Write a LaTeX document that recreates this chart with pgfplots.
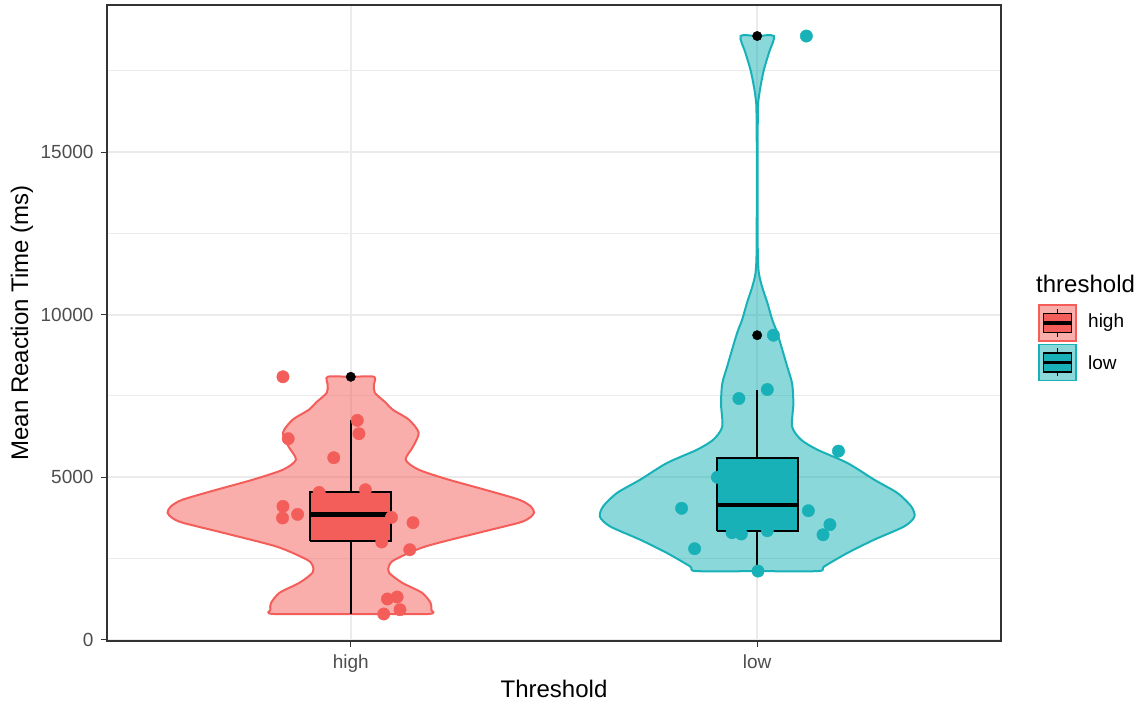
\documentclass[border=0pt]{standalone}
\usepackage{fontspec}
\setmainfont{Liberation Sans}
\usepackage{pgfplots}
\pgfplotsset{compat=1.18}
\usepackage{pgfplotstable}
\definecolor{redc}{HTML}{F35E5A}
\definecolor{tealc}{HTML}{17B1B7}
\definecolor{gridc}{HTML}{EBEBEB}
\definecolor{gray30}{HTML}{4D4D4D}
\definecolor{gray20}{HTML}{333333}

% violin outlines: value v, signed half-width w (category units)
\pgfplotstableread{
v w
791 0
791 0.190
923 0.198
1138 0.196
1446 0.175
1754 0.126
2062 0.094
2277 0.094
2462 0.108
2862 0.182
3292 0.315
3600 0.414
3750 0.440
3908 0.451
4100 0.443
4308 0.414
4615 0.330
4923 0.241
5231 0.167
5538 0.135
5938 0.153
6369 0.167
6769 0.143
7077 0.103
7292 0.086
7600 0.059
7846 0.057
8090 0.057
8090 0
8090 -0.057
7846 -0.057
7600 -0.059
7292 -0.086
7077 -0.103
6769 -0.143
6369 -0.167
5938 -0.153
5538 -0.135
5231 -0.167
4923 -0.241
4615 -0.330
4308 -0.414
4100 -0.443
3908 -0.451
3750 -0.440
3600 -0.414
3292 -0.315
2862 -0.182
2462 -0.108
2277 -0.094
2062 -0.094
1754 -0.126
1446 -0.175
1138 -0.196
923 -0.198
791 -0.190
791 0
}\violinhigh

\pgfplotstableread{
v w
2111 0
2111 0.150
2255 0.165
2668 0.222
3077 0.288
3486 0.362
3785 0.387
4102 0.379
4514 0.345
4923 0.288
5437 0.222
5846 0.148
6154 0.108
6554 0.086
7262 0.089
7877 0.086
8400 0.074
9415 0.050
9846 0.037
10369 0.025
10862 0.012
11292 0.004
11908 0.0015
13538 0.001
15077 0.001
16000 0.0015
16523 0.0025
17015 0.008
17538 0.0165
18062 0.029
18575 0.041
18575 0
18575 -0.041
18062 -0.029
17538 -0.0165
17015 -0.008
16523 -0.0025
16000 -0.0015
15077 -0.001
13538 -0.001
11908 -0.0015
11292 -0.004
10862 -0.012
10369 -0.025
9846 -0.037
9415 -0.050
8400 -0.074
7877 -0.086
7262 -0.089
6554 -0.086
6154 -0.108
5846 -0.148
5437 -0.222
4923 -0.288
4514 -0.345
4102 -0.379
3785 -0.387
3486 -0.362
3077 -0.288
2668 -0.222
2255 -0.165
2111 -0.150
2111 0
}\violinlow

\pgfplotstableread{
x y
0.833 8090
0.846 6185
1.016 6748
1.020 6338
0.958 5600
0.922 4532
1.036 4615
0.833 4102
0.832 3745
0.869 3855
1.100 3763
1.153 3600
1.076 3006
1.145 2769
1.090 1252
1.114 1314
1.121 923
1.081 791
}\pointshigh

\pgfplotstableread{
x y
2.121 18575
2.040 9369
2.025 7698
1.955 7422
2.200 5803
1.902 4997
1.814 4043
2.126 3969
2.179 3541
2.162 3228
1.938 3292
1.961 3252
2.025 3354
1.846 2800
2.002 2111
}\pointslow

\begin{document}
\begin{tikzpicture}
\useasboundingbox (-107pt,-62pt) rectangle (1036pt,641pt);
\begin{axis}[
  at={(0pt,0pt)}, anchor=south west,
  scale only axis, width=894pt, height=636pt,
  xmin=0.4, xmax=2.6, ymin=-40, ymax=19530,
  xtick={1,2}, xticklabels={high,low},
  ytick={0,5000,10000,15000},
  minor ytick={2500,7500,12500,17500},
  grid=both,
  major grid style={draw=gridc, line width=2pt},
  minor grid style={draw=gridc, line width=1pt},
  axis line style={draw=gray20, line width=1.2pt},
  tick style={draw=gray20, line width=1.2pt},
  tick align=outside, tick pos=left,
  major tick length=6pt, minor tick length=0pt,
  scaled y ticks=false,
  /pgf/number format/1000 sep={},
  /pgf/number format/assume math mode=true,
  tick label style={font=\fontsize{19}{19}\selectfont, text=gray30},
  xticklabel style={yshift=-4pt},
  yticklabel style={xshift=-4pt},
  xlabel={Threshold}, ylabel={Mean Reaction Time (ms)},
  every axis x label/.style={at={(rel axis cs:0.5,0)}, yshift=-48pt, anchor=center,
    font=\fontsize{24}{24}\selectfont},
  every axis y label/.style={at={(rel axis cs:0,0.5)}, xshift=-85pt, rotate=90, anchor=center,
    font=\fontsize{24}{24}\selectfont},
  clip=true,
]
% violins
\addplot[draw=redc, line width=2pt, fill=redc, fill opacity=0.5, smooth, tension=0.45]
  table[x expr=1+\thisrow{w}, y=v] {\violinhigh};
\addplot[draw=tealc, line width=2pt, fill=tealc, fill opacity=0.5, smooth, tension=0.45]
  table[x expr=2+\thisrow{w}, y=v] {\violinlow};
% jittered points
\addplot[only marks, mark=*, mark size=6.2pt, mark options={draw=redc, fill=redc}]
  table[x=x, y=y] {\pointshigh};
\addplot[only marks, mark=*, mark size=6.2pt, mark options={draw=tealc, fill=tealc}]
  table[x=x, y=y] {\pointslow};
% boxplot high
\addplot[black, line width=2pt] coordinates {(1,791) (1,3046)};
\addplot[black, line width=2pt] coordinates {(1,4554) (1,6748)};
\addplot[draw=black, fill=redc, line width=2pt] coordinates {(0.9,3046) (1.1,3046) (1.1,4554) (0.9,4554) (0.9,3046)};
\addplot[black, line width=4.5pt] coordinates {(0.9,3846) (1.1,3846)};
% boxplot low
\addplot[black, line width=2pt] coordinates {(2,2111) (2,3341)};
\addplot[black, line width=2pt] coordinates {(2,5600) (2,7698)};
\addplot[draw=black, fill=tealc, line width=2pt] coordinates {(1.9,3341) (2.1,3341) (2.1,5600) (1.9,5600) (1.9,3341)};
\addplot[black, line width=4.5pt] coordinates {(1.9,4145) (2.1,4145)};
% outliers
\addplot[only marks, mark=*, mark size=4.7pt, mark options={draw=black, fill=black}]
  coordinates {(1,8090) (2,9369) (2,18575)};
\end{axis}
% legend
\node[anchor=west, font=\fontsize{24}{24}\selectfont, inner sep=0pt] at (929pt,357pt) {threshold};
\foreach \yc/\col/\lab in {318/redc/high, 278.5/tealc/low}{
  \fill[\col, opacity=0.5] (932pt,\yc pt-18pt) rectangle (969pt,\yc pt+18pt);
  \draw[\col, line width=1.8pt] (932pt,\yc pt-18pt) rectangle (969pt,\yc pt+18pt);
  \draw[black, line width=1.8pt] (950.5pt,\yc pt-14pt) -- (950.5pt,\yc pt+14pt);
  \draw[black, fill=\col, line width=1.8pt] (936.5pt,\yc pt-9.5pt) rectangle (964.5pt,\yc pt+9.5pt);
  \draw[black, line width=3.5pt] (936.5pt,\yc pt) -- (964.5pt,\yc pt);
  \node[anchor=west, font=\fontsize{19}{19}\selectfont, inner sep=0pt] at (981pt,\yc pt) {\lab};
}
\end{tikzpicture}
\end{document}
